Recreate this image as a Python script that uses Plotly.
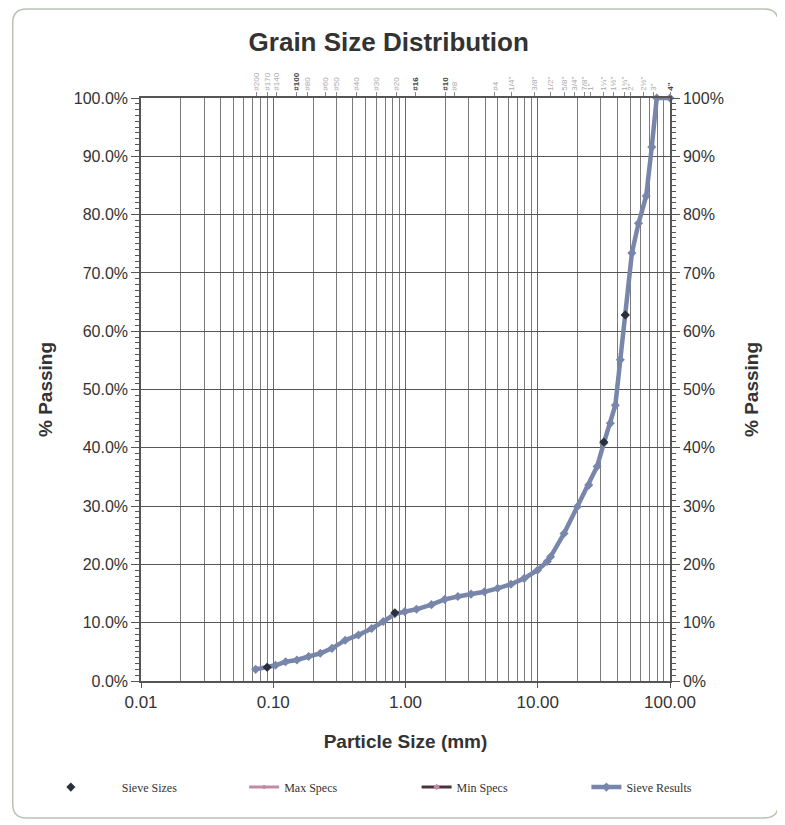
import plotly.graph_objects as go

# ---- data ----
result_size = [0.0736, 0.090, 0.104, 0.124, 0.151, 0.185, 0.227, 0.278, 0.350, 0.441, 0.555, 0.679,
               0.831, 0.989, 1.21, 1.57, 1.98, 2.49, 3.13, 3.95, 4.97, 6.27, 7.89, 9.95, 11.8,
               12.5, 15.8, 19.9, 24.3, 28.1, 31.6, 35.4, 38.6, 42.1, 45.9, 51.5, 57.8, 66.1, 72.8, 79.4, 100.0]
result_pass = [2.0, 2.35, 2.7, 3.3, 3.6, 4.2, 4.75, 5.6, 7.0, 7.9, 9.0, 10.2,
               11.5, 11.9, 12.3, 13.1, 14.0, 14.5, 14.9, 15.3, 15.9, 16.6, 17.6, 19.0, 20.5,
               21.3, 25.3, 29.9, 33.6, 36.8, 40.8, 44.2, 47.3, 55.1, 62.8, 73.4, 78.5, 83.2, 91.6, 100.0, 100.0]

sieve_pt_size = [0.090, 0.831, 31.6, 45.9]
sieve_pt_pass = [2.35, 11.7, 41.0, 62.8]

sieve_names = ['#200', '#170', '#140', '#100', '#80', '#60', '#50', '#40', '#30', '#20', '#16', '#10', '#8',
               '#4', '1/4"', '3/8"', '1/2"', '5/8"', '3/4"', '7/8"', '1"', '1¼"', '1½"', '1¾"', '2"',
               '2½"', '3"', '4"']
sieve_mm = [0.075, 0.09, 0.106, 0.15, 0.18, 0.25, 0.3, 0.425, 0.6, 0.85, 1.18, 2.0, 2.36,
            4.75, 6.3, 9.5, 12.5, 16, 19, 22.4, 25, 31.5, 37.5, 45, 50, 63, 75, 100]
dark_sieves = ['#100', '#16', '#10', '4"']

x_major = [0.01, 0.1, 1, 10, 100]
x_major_text = ['0.01', '0.10', '1.00', '10.00', '100.00']
x_minor = [m * d for d in [0.01, 0.1, 1, 10] for m in range(2, 10)]
y_major = list(range(0, 101, 10))
y_left_text = [f'{v:.1f}%' for v in y_major]
y_right_text = [f'{v}%' for v in y_major]

fig = go.Figure()

fig.add_trace(go.Scatter(x=[None], y=[None], mode='lines+markers', name='Max Specs',
                         line=dict(color='#c48aa3', width=3), marker=dict(color='#c48aa3', size=4),
                         legend='legend2'))
fig.add_trace(go.Scatter(x=[None], y=[None], mode='lines+markers', name='Min Specs',
                         line=dict(color='#4a3040', width=3), marker=dict(color='#c48aa3', size=5, symbol='diamond'),
                         legend='legend3'))
fig.add_trace(go.Scatter(x=result_size, y=result_pass, mode='lines+markers', name='Sieve Results',
                         line=dict(color='#7886ab', width=4.5),
                         marker=dict(color='#7886ab', size=7, symbol='diamond'),
                         cliponaxis=False, legend='legend4'))
fig.add_trace(go.Scatter(x=sieve_pt_size, y=sieve_pt_pass, mode='markers', name='Sieve Sizes',
                         marker=dict(color='#2a2f3a', size=7, symbol='diamond'),
                         cliponaxis=False, legend='legend'))
# invisible anchor trace for the secondary axes
fig.add_trace(go.Scatter(x=[0.01, 100], y=[0, 100], xaxis='x2', yaxis='y2', mode='markers',
                         marker=dict(opacity=0), showlegend=False, hoverinfo='skip'))

ticktext2 = [f"<span style='color:#444'><b>{n}</b></span>" if n in dark_sieves else n for n in sieve_names]

axis_color = '#555555'
leg_font = dict(family='Liberation Serif', size=12, color='#333333')
LY = -0.182
fig.update_layout(
    width=785, height=825,
    margin=dict(l=130, r=123, t=90, b=152),
    paper_bgcolor='white', plot_bgcolor='white',
    font=dict(family='Liberation Sans, Arial', color='#333333'),
    title=dict(text='<b>Grain Size Distribution</b>', x=0.485, xanchor='center', y=0.959, yanchor='middle',
               font=dict(size=26, color='#333333')),
    xaxis=dict(type='log', range=[-2, 2], tickvals=x_major, ticktext=x_major_text,
               showgrid=True, gridcolor='#6a6a6a', gridwidth=1,
               ticks='outside', ticklen=5, tickcolor=axis_color,
               showline=True, linecolor=axis_color, linewidth=1.5, mirror=False,
               tickfont=dict(size=17, color='#333333'),
               minor=dict(tickvals=x_minor, showgrid=True, gridcolor='#7a7a7a', gridwidth=1, ticks=''),
               title=dict(text='<b>Particle Size (mm)</b>', font=dict(size=19, color='#333333'), standoff=24),
               zeroline=False),
    xaxis2=dict(type='log', range=[-2, 2], overlaying='x', side='top', anchor='y',
                tickvals=sieve_mm, ticktext=ticktext2, tickangle=-90,
                tickfont=dict(size=8, color='#aaaaaa'), ticks='outside', ticklen=4, tickcolor='#888888',
                showgrid=False, showline=True, linecolor=axis_color, linewidth=1.5),
    yaxis=dict(range=[0, 100], tickvals=y_major, ticktext=y_left_text,
               showgrid=True, gridcolor='#555555', gridwidth=1,
               ticks='outside', ticklen=8, tickcolor=axis_color,
               minor=dict(dtick=1, ticks='outside', ticklen=4, tickcolor=axis_color, showgrid=False),
               showline=True, linecolor=axis_color, linewidth=1.5,
               tickfont=dict(size=16, color='#333333'),
               title=dict(text='<b>% Passing</b>', font=dict(size=19, color='#333333'), standoff=16),
               zeroline=False),
    yaxis2=dict(range=[0, 100], overlaying='y', side='right', anchor='x',
                tickvals=y_major, ticktext=y_right_text,
                ticks='outside', ticklen=8, tickcolor=axis_color,
                minor=dict(dtick=1, ticks='outside', ticklen=4, tickcolor=axis_color, showgrid=False),
                showline=True, linecolor=axis_color, linewidth=1.5, showgrid=False,
                tickfont=dict(size=16, color='#333333'),
                title=dict(text='<b>% Passing</b>', font=dict(size=19, color='#333333'), standoff=22),
                zeroline=False),
    legend=dict(x=-0.229, y=LY, yanchor='middle', xanchor='left', itemwidth=92,
                font=leg_font, bgcolor='rgba(0,0,0,0)'),
    legend2=dict(x=0.195, y=LY, yanchor='middle', xanchor='left', font=leg_font, bgcolor='rgba(0,0,0,0)'),
    legend3=dict(x=0.521, y=LY, yanchor='middle', xanchor='left', font=leg_font, bgcolor='rgba(0,0,0,0)'),
    legend4=dict(x=0.842, y=LY, yanchor='middle', xanchor='left', font=leg_font, bgcolor='rgba(0,0,0,0)'),
)

# rounded outer frame (paper coordinates)
PL, PT, PW, PH = 130, 90, 532, 583
x0, x1 = (1 - PL) / PW, (771 - PL) / PW
y0, y1 = (PT + PH - 810) / PH, (PT + PH - 1) / PH
rx, ry = 14 / PW, 14 / PH
path = (f"M{x0+rx},{y1} L{x1-rx},{y1} Q{x1},{y1} {x1},{y1-ry} L{x1},{y0+ry} Q{x1},{y0} {x1-rx},{y0} "
        f"L{x0+rx},{y0} Q{x0},{y0} {x0},{y0+ry} L{x0},{y1-ry} Q{x0},{y1} {x0+rx},{y1} Z")
fig.add_shape(type='path', path=path, xref='paper', yref='paper', line=dict(color='#b9c2b2', width=1.5),
              layer='below')

fig.write_html('out.html')
